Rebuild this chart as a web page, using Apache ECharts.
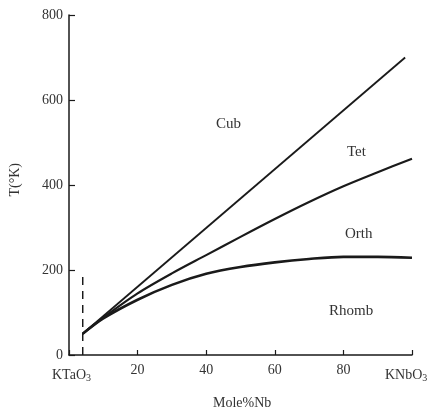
<!DOCTYPE html>
<html>
<head>
<meta charset="utf-8">
<script src="https://cdn.jsdelivr.net/npm/echarts@6/dist/echarts.min.js"></script>
<style>
  html, body { margin: 0; padding: 0; background: #fff; }
  #chart { width: 441px; height: 412px; }
</style>
</head>
<body>
<div id="chart"></div>
<script>
// 相图数据 (Mole % Nb vs T in K)
var cubLine = [[4, 50], [98, 700]];
var tetLine = [[4, 50], [10, 88], [20, 145], [30, 192], [40, 235], [50, 278], [60, 320], [70, 360], [80, 397], [90, 430], [100, 462]];
var orthLine = [[4, 50], [10, 86], [20, 130], [30, 165], [40, 191], [50, 207], [60, 218], [70, 226], [80, 231], [90, 231], [100, 229]];
var dashLine = [[4, 0], [4, 185]];
var yTicks = [0, 200, 400, 600, 800];
var xTicks = [20, 40, 60, 80];
var phaseNames = ['Cub', 'Tet', 'Orth', 'Rhomb'];

var serif = '"Liberation Serif", "DejaVu Serif", serif';
var ink = '#1a1a1a';

function lineSeries(data, w) {
	return {
		type: 'line',
		data: data,
		symbol: 'none',
		smooth: 0.3,
		lineStyle: { color: ink, width: w },
		silent: true
	};
}

var option = {
	backgroundColor: '#fff',
	animation: false,
	grid: { left: 69, right: 29, top: 15, bottom: 57 },
	xAxis: {
		type: 'value',
		min: 0, max: 100, interval: 20,
		axisLine: { lineStyle: { color: ink, width: 1.5 } },
		axisTick: { inside: true, length: 5, lineStyle: { color: ink, width: 1.2 } },
		splitLine: { show: false },
		axisLabel: {
			margin: 8,
			fontFamily: serif, fontSize: 14, color: '#333',
			formatter: function (v) { return xTicks.indexOf(v) >= 0 ? String(v) : ''; }
		}
	},
	yAxis: {
		type: 'value',
		min: 0, max: 800, interval: 200,
		axisLine: { show: true, lineStyle: { color: ink, width: 1.5 } },
		axisTick: { show: true, inside: true, length: 6, lineStyle: { color: ink, width: 1.2 } },
		splitLine: { show: false },
		axisLabel: {
			margin: 6,
			fontFamily: serif, fontSize: 14, color: '#333',
			formatter: function (v) { return yTicks.indexOf(v) >= 0 ? String(v) : ''; }
		}
	},
	graphic: [
		{ type: 'text', left: 8, top: 163, rotation: Math.PI / 2,
		  style: { text: 'T(°K)', font: '14px ' + serif, fill: '#333' } },
		{ type: 'text', left: 213, top: 396,
		  style: { text: 'Mole%Nb', font: '14px ' + serif, fill: '#333' } },
		{ type: 'text', left: 52, top: 368,
		  style: { text: '{a|KTaO}{s|3}', rich: {
			a: { font: '14px ' + serif, fill: '#333' },
			s: { font: '10px ' + serif, fill: '#333', padding: [6, 0, 0, 0] } } } },
		{ type: 'text', left: 385, top: 368,
		  style: { text: '{a|KNbO}{s|3}', rich: {
			a: { font: '14px ' + serif, fill: '#333' },
			s: { font: '10px ' + serif, fill: '#333', padding: [6, 0, 0, 0] } } } },
		{ type: 'text', left: 216, top: 117, style: { text: phaseNames[0], font: '15px ' + serif, fill: '#333' } },
		{ type: 'text', left: 347, top: 145, style: { text: phaseNames[1], font: '15px ' + serif, fill: '#333' } },
		{ type: 'text', left: 345, top: 227, style: { text: phaseNames[2], font: '15px ' + serif, fill: '#333' } },
		{ type: 'text', left: 329, top: 304, style: { text: phaseNames[3], font: '15px ' + serif, fill: '#333' } }
	],
	series: [
		lineSeries(cubLine, 1.8),
		lineSeries(tetLine, 2.2),
		lineSeries(orthLine, 2.6),
		{
			type: 'line',
			data: dashLine,
			symbol: 'none',
			lineStyle: { color: ink, width: 1.5, type: [8, 6] },
			silent: true
		}
	]
};

var chart = echarts.init(document.getElementById('chart'));
chart.setOption(option);
</script>
</body>
</html>
